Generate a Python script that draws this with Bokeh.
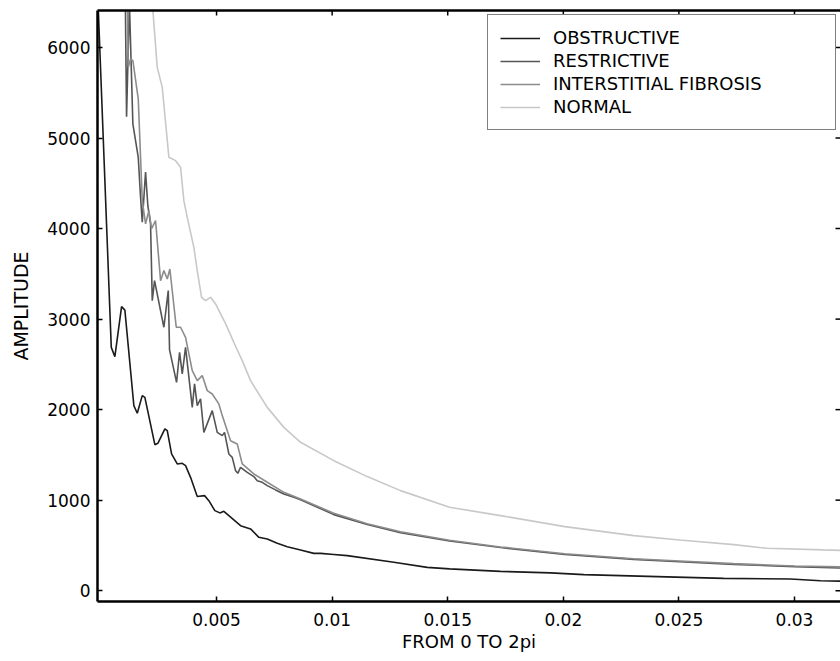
import math
from bokeh.plotting import figure
from bokeh.models import Range1d, LinearAxis, FixedTicker, Legend, LegendItem
from bokeh.embed import file_html
from bokeh.resources import INLINE

# ---- data ----
obs_x = [-0.00012, 0.000446, 0.000601, 0.000891, 0.001034, 0.001423, 0.00157, 0.001786, 0.001899,
         0.002331, 0.002461, 0.002764, 0.002868, 0.003054, 0.0033, 0.003516, 0.003659, 0.003875,
         0.004165, 0.004481, 0.004667, 0.004926, 0.005143, 0.005316, 0.005532, 0.006038, 0.006471,
         0.00683, 0.007193, 0.007626, 0.008058, 0.008633, 0.009208, 0.009498, 0.010073, 0.010653,
         0.012669, 0.014113, 0.015078, 0.017284, 0.019446, 0.020886, 0.024062, 0.026942, 0.029827,
         0.031125, 0.03199]
obs_y = [6450, 2688, 2586, 3138, 3100, 2044, 1960, 2155, 2136,
         1613, 1628, 1787, 1768, 1510, 1400, 1407, 1381, 1252,
         1040, 1050, 994, 884, 859, 876, 829, 718, 682,
         589, 571, 523, 486, 450, 412, 412, 400, 387,
         313, 257, 240, 213, 196, 177, 155, 135, 129,
         110, 105]

res_x = [0.001055, 0.001107, 0.00123, 0.00138, 0.001613, 0.001713, 0.001786, 0.001929, 0.002029,
         0.002145, 0.002219, 0.002318, 0.002721, 0.002911, 0.002967, 0.00327, 0.0034, 0.003516,
         0.003659, 0.003949, 0.004048, 0.004165, 0.004308, 0.004451, 0.004814, 0.00503, 0.005247,
         0.005346, 0.005532, 0.005679, 0.005822, 0.005921, 0.006038, 0.006328, 0.006613, 0.00676,
         0.006977, 0.007193, 0.007552, 0.007911, 0.008343, 0.008633, 0.010073, 0.011518, 0.012958,
         0.015078, 0.017284, 0.020065, 0.02305, 0.025039, 0.027375, 0.030013, 0.03199]
res_y = [6500, 5237, 6500, 5157, 4787, 4346, 4070, 4624, 4250,
         4052, 3204, 3425, 2910, 3315, 2660, 2302, 2634, 2395,
         2688, 2025, 2284, 2044, 2118, 1749, 1989, 1749, 1713,
         1749, 1510, 1473, 1326, 1296, 1363, 1307, 1260, 1215,
         1197, 1160, 1113, 1068, 1031, 1005, 840, 730, 640,
         548, 476, 400, 345, 320, 290, 265, 250]

int_x = [0.001142, 0.001181, 0.00128, 0.00138, 0.001613, 0.001786, 0.001929, 0.002072, 0.002189,
         0.002362, 0.002578, 0.002721, 0.002868, 0.00298, 0.003257, 0.003443, 0.003659, 0.003949,
         0.004165, 0.004381, 0.004598, 0.004814, 0.005099, 0.005247, 0.005606, 0.005895, 0.006112,
         0.006613, 0.007193, 0.007911, 0.008633, 0.010073, 0.011518, 0.012958, 0.015078, 0.017284,
         0.020065, 0.02305, 0.025039, 0.027375, 0.030013, 0.03199]
int_y = [6500, 5782, 5874, 5856, 5433, 4309, 4052, 4199, 4000,
         4088, 3425, 3536, 3444, 3554, 2910, 2910, 2799, 2431,
         2320, 2376, 2210, 2173, 2063, 1934, 1657, 1621, 1400,
         1289, 1197, 1086, 1013, 855, 740, 650, 556, 483,
         408, 352, 328, 298, 272, 262]

nor_x = [0.002219, 0.002435, 0.002651, 0.002937, 0.003227, 0.003443, 0.003586, 0.003733, 0.004018,
         0.004165, 0.004351, 0.004524, 0.00474, 0.004957, 0.005389, 0.005822, 0.006112, 0.006471,
         0.007193, 0.007911, 0.008633, 0.010073, 0.011518, 0.012958, 0.015078, 0.017284, 0.020065,
         0.02305, 0.025039, 0.027375, 0.028819, 0.031242, 0.03199]
nor_y = [6500, 5782, 5561, 4788, 4751, 4678, 4309, 4125, 3793,
         3536, 3241, 3204, 3241, 3168, 2950, 2700, 2541, 2320,
         2025, 1804, 1639, 1436, 1260, 1105, 921, 829, 707,
         608, 560, 508, 468, 450, 445]

x_ticks = [0.005, 0.01, 0.015, 0.02, 0.025, 0.03]
y_ticks = [0, 1000, 2000, 3000, 4000, 5000, 6000]
labels = ["OBSTRUCTIVE", "RESTRICTIVE", "INTERSTITIAL FIBROSIS", "NORMAL"]
colors = ["#1a1a1a", "#555555", "#8c8c8c", "#c8c8c8"]

X0, X1 = -0.00015, 0.03199
Y0, Y1 = -120, 6410

FONT = "DejaVu Sans"

p = figure(width=840, height=659, output_backend="svg", toolbar_location=None,
           x_range=Range1d(X0, X1), y_range=Range1d(Y0, Y1),
           x_axis_location=None, y_axis_location=None,
           min_border_left=97, min_border_right=0, min_border_top=10, min_border_bottom=58)
p.outline_line_color = None
p.xgrid.visible = False
p.ygrid.visible = False
p.background_fill_color = "white"

def style(ax):
    ax.axis_line_color = "black"
    ax.axis_line_width = 2.5
    ax.major_tick_line_color = "black"
    ax.major_tick_line_width = 1.5
    ax.major_tick_in = 5
    ax.major_tick_out = 0
    ax.minor_tick_line_color = None
    ax.major_label_text_font = FONT
    ax.major_label_text_color = "black"
    ax.axis_label_text_font = FONT
    ax.axis_label_text_font_style = "normal"
    ax.axis_label_text_color = "black"

xb = LinearAxis(ticker=FixedTicker(ticks=x_ticks), axis_label="FROM 0 TO 2pi")
style(xb)
xb.major_label_text_font_size = "17px"
xb.major_label_standoff = 11
xb.axis_label_text_font_size = "18px"
xb.axis_label_standoff = 2
p.add_layout(xb, "below")

# top frame line (no ticks / labels of its own)
xt = LinearAxis(ticker=FixedTicker(ticks=[]))
style(xt)
p.add_layout(xt, "above")

yl = LinearAxis(ticker=FixedTicker(ticks=y_ticks), axis_label="AMPLITUDE")
style(yl)
yl.major_label_text_font_size = "17px"
yl.major_label_standoff = 7
yl.axis_label_text_font_size = "19px"
yl.axis_label_standoff = 12
p.add_layout(yl, "left")

series = [(obs_x, obs_y), (res_x, res_y), (int_x, int_y), (nor_x, nor_y)]
items = []
for (xs, ys), lab, col in zip(series, labels, colors):
    r = p.line(xs, ys, line_color=col, line_width=1.6)
    items.append(LegendItem(label=lab, renderers=[r]))

# inward tick marks on the top and right edges of the box
p.scatter(x=x_ticks, y=[Y1] * len(x_ticks), marker="dash", angle=math.pi / 2,
          size=10, line_color="black", line_width=1.5)
p.scatter(x=[X1] * len(y_ticks), y=y_ticks, marker="dash",
          size=10, line_color="black", line_width=1.5)

legend = Legend(items=items, location=(390, 471))
legend.label_text_font = FONT
legend.label_text_font_size = "18px"
legend.label_text_color = "black"
legend.glyph_width = 40
legend.glyph_height = 20
legend.label_height = 20
legend.label_standoff = 13
legend.label_width = 270
legend.spacing = 2
legend.padding = 12
legend.margin = 0
legend.border_line_color = "black"
legend.border_line_width = 1.2
legend.background_fill_color = "white"
legend.background_fill_alpha = 1.0
p.add_layout(legend, "center")

open("out.html", "w").write(file_html(p, INLINE))
